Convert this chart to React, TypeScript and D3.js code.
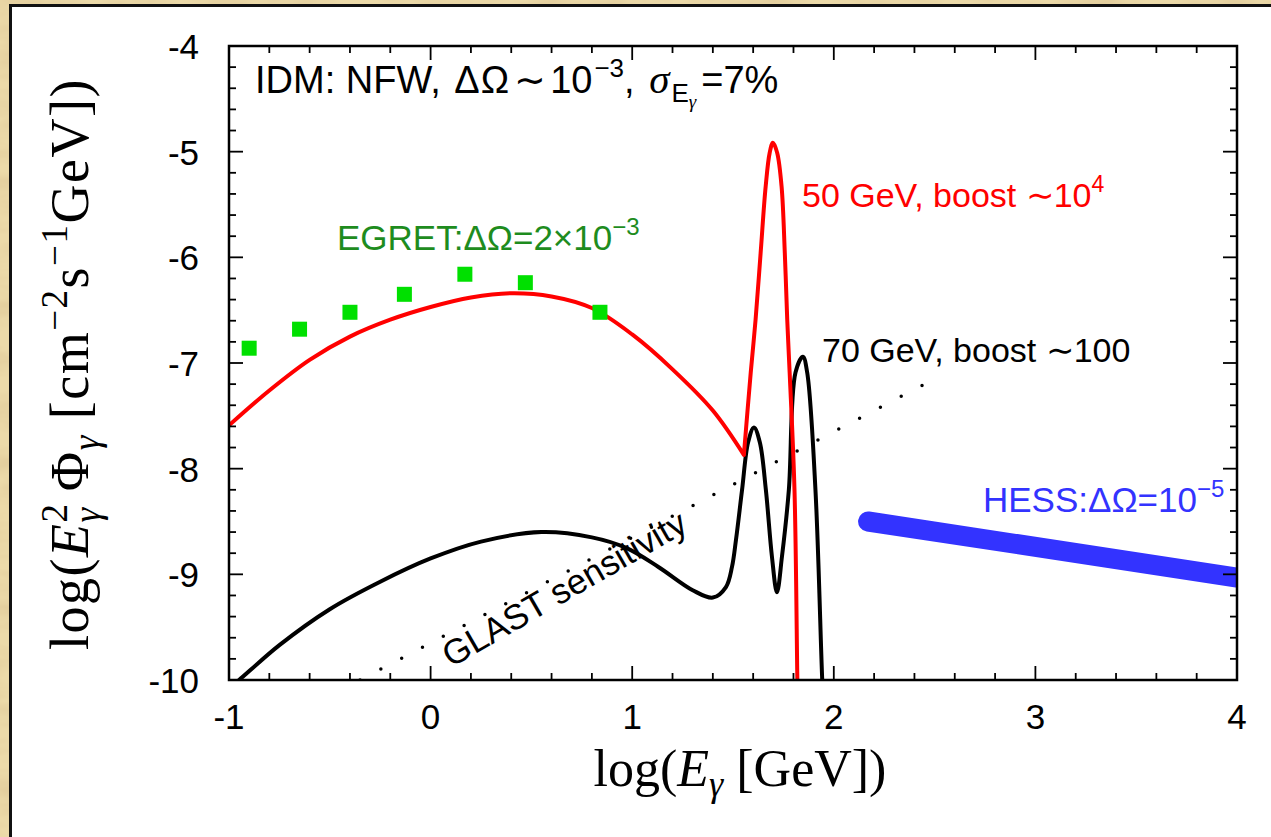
import * as d3 from "d3";
import { useEffect, useRef } from "react";

// tick values
const xMajor = [-1, 0, 1, 2, 3, 4];
const yMajor = [-10, -9, -8, -7, -6, -5, -4];
const xMinor = d3.range(0, 26).map((i) => -1 + i * 0.2);
const yMinor = d3.range(0, 31).map((i) => -10 + i * 0.2);

// EGRET data (green squares)
const egretLogE = [-0.9, -0.65, -0.4, -0.13, 0.17, 0.47, 0.84];
const egretFlux = [-6.86, -6.68, -6.52, -6.35, -6.16, -6.24, -6.52];

// 50 GeV, boost ~1e4 : continuum part, then the line
const red50Cont = [
	[-1.0, -7.59], [-0.8, -7.26], [-0.6, -6.97], [-0.4, -6.75], [-0.2, -6.59],
	[0.0, -6.47], [0.2, -6.38], [0.4, -6.34], [0.6, -6.37], [0.8, -6.48],
	[1.0, -6.73], [1.2, -7.06], [1.4, -7.45], [1.554, -7.87],
];
const red50Line = [
	[1.554, -7.87], [1.588, -7.09], [1.612, -6.59], [1.637, -5.96], [1.662, -5.33],
	[1.682, -5.01], [1.698, -4.915], [1.719, -5.01], [1.741, -5.33], [1.757, -5.96],
	[1.769, -6.59], [1.781, -7.09], [1.805, -8.2], [1.819, -9.97], [1.822, -10.3],
];

// 70 GeV, boost ~100
const black70 = [
	[-0.97, -10.03], [-0.95, -10.0], [-0.75, -9.67], [-0.5, -9.33], [-0.25, -9.07],
	[0.0, -8.85], [0.25, -8.69], [0.55, -8.6], [0.8, -8.65], [0.97, -8.75],
	[1.13, -8.93], [1.3, -9.15], [1.4, -9.22], [1.465, -9.12], [1.495, -8.93],
	[1.515, -8.67], [1.545, -8.2], [1.575, -7.75], [1.604, -7.61], [1.633, -7.75],
	[1.663, -8.2], [1.693, -8.83], [1.718, -9.17], [1.743, -8.83], [1.777, -8.2],
	[1.81, -7.09], [1.847, -6.94], [1.868, -7.09], [1.909, -8.2], [1.942, -9.97],
	[1.95, -10.3],
];

// GLAST sensitivity (dotted) and HESS band
const glastLine = [[-0.35, -10], [2.45, -7.2]];
const hessLine = [[2.17, -8.5], [4.0, -9.03]];

const W = 1271;
const H = 837;
const plot = { left: 229, right: 1237, top: 46, bottom: 680 };
const sans = "'Liberation Sans', Arial, Helvetica, sans-serif";
const serif = "'Liberation Serif', 'Times New Roman', serif";

function App() {
	const ref = useRef(null);

	useEffect(() => {
		const svg = d3.select(ref.current);
		svg.selectAll("*").remove();

		const x = d3.scaleLinear().domain([-1, 4]).range([plot.left, plot.right]);
		const y = d3.scaleLinear().domain([-10, -4]).range([plot.bottom, plot.top]);

		const defs = svg.append("defs");
		const f = defs.append("filter").attr("id", "parch").attr("x", 0).attr("y", 0).attr("width", 1).attr("height", 1);
		f.append("feTurbulence")
			.attr("type", "fractalNoise")
			.attr("baseFrequency", "0.015 0.04")
			.attr("numOctaves", 4)
			.attr("seed", 7);
		f.append("feColorMatrix")
			.attr("values", "0 0 0 0 0.72  0 0 0 0 0.56  0 0 0 0 0.3  1.4 0 0 0 -0.55");
		defs.append("clipPath")
			.attr("id", "plotclip")
			.append("rect")
			.attr("x", plot.left)
			.attr("y", plot.top)
			.attr("width", plot.right - plot.left)
			.attr("height", plot.bottom - plot.top);

		// parchment background + white panel
		svg.append("rect").attr("width", W).attr("height", H).attr("fill", "#ecdaa9");
		svg.append("rect").attr("width", W).attr("height", H).attr("filter", "url(#parch)");
		svg.append("rect")
			.attr("x", 10.5)
			.attr("y", 5.5)
			.attr("width", 1400)
			.attr("height", 1000)
			.attr("fill", "#fff")
			.attr("stroke", "#111")
			.attr("stroke-width", 3);

		const g = svg.append("g").attr("clip-path", "url(#plotclip)");
		const line = d3.line().x((d) => x(d[0])).y((d) => y(d[1]));
		const smooth = d3.line().x((d) => x(d[0])).y((d) => y(d[1])).curve(d3.curveCatmullRom.alpha(0.5));

		// HESS
		g.append("path")
			.attr("d", line(hessLine))
			.attr("stroke", "#3333ff")
			.attr("stroke-width", 20)
			.attr("stroke-linecap", "round")
			.attr("fill", "none");

		// GLAST dotted
		g.append("path")
			.attr("d", line(glastLine))
			.attr("stroke", "#000")
			.attr("stroke-width", 3.5)
			.attr("stroke-linecap", "round")
			.attr("stroke-dasharray", "0 23.5")
			.attr("fill", "none");

		// black 70 GeV
		g.append("path")
			.attr("d", smooth(black70))
			.attr("stroke", "#000")
			.attr("stroke-width", 4)
			.attr("stroke-linejoin", "round")
			.attr("fill", "none");

		// red 50 GeV
		g.append("path")
			.attr("d", smooth(red50Cont) + smooth(red50Line))
			.attr("stroke", "#ff0000")
			.attr("stroke-width", 4)
			.attr("stroke-linejoin", "round")
			.attr("stroke-linecap", "round")
			.attr("fill", "none");

		// EGRET squares
		g.selectAll("rect.egret")
			.data(egretLogE.map((e, i) => [e, egretFlux[i]]))
			.enter()
			.append("rect")
			.attr("class", "egret")
			.attr("x", (d) => x(d[0]) - 7.5)
			.attr("y", (d) => y(d[1]) - 7.5)
			.attr("width", 15)
			.attr("height", 15)
			.attr("fill", "#00e000");

		// frame
		svg.append("rect")
			.attr("x", plot.left)
			.attr("y", plot.top)
			.attr("width", plot.right - plot.left)
			.attr("height", plot.bottom - plot.top)
			.attr("fill", "none")
			.attr("stroke", "#000")
			.attr("stroke-width", 2.5);

		const ticks = svg.append("g").attr("stroke", "#000").attr("stroke-width", 1.8);
		const isMajor = (v) => Math.abs(v - Math.round(v)) < 1e-6;
		xMinor.forEach((v) => {
			const len = isMajor(v) ? 14 : 7;
			ticks.append("line").attr("x1", x(v)).attr("x2", x(v)).attr("y1", plot.bottom).attr("y2", plot.bottom - len);
			ticks.append("line").attr("x1", x(v)).attr("x2", x(v)).attr("y1", plot.top).attr("y2", plot.top + len);
		});
		yMinor.forEach((v) => {
			const len = isMajor(v) ? 14 : 7;
			ticks.append("line").attr("y1", y(v)).attr("y2", y(v)).attr("x1", plot.left).attr("x2", plot.left + len);
			ticks.append("line").attr("y1", y(v)).attr("y2", y(v)).attr("x1", plot.right).attr("x2", plot.right - len);
		});

		// tick labels
		svg.selectAll("text.xl")
			.data(xMajor)
			.enter()
			.append("text")
			.attr("class", "xl")
			.attr("x", (d) => x(d))
			.attr("y", 729)
			.attr("text-anchor", "middle")
			.attr("font-family", sans)
			.attr("font-size", 35)
			.text((d) => (d < 0 ? "-" + Math.abs(d) : d));
		svg.selectAll("text.yl")
			.data(yMajor)
			.enter()
			.append("text")
			.attr("class", "yl")
			.attr("x", 199)
			.attr("y", (d) => y(d) + 13)
			.attr("text-anchor", "end")
			.attr("font-family", sans)
			.attr("font-size", 35)
			.text((d) => "-" + Math.abs(d));

		// axis titles
		const xt = svg.append("text")
			.attr("x", 740)
			.attr("y", 786)
			.attr("text-anchor", "middle")
			.attr("font-family", serif)
			.attr("font-size", 52);
		xt.append("tspan").text("log(");
		xt.append("tspan").attr("font-style", "italic").text("E");
		xt.append("tspan").attr("font-style", "italic").attr("font-size", 36).attr("dy", 10).text("γ");
		xt.append("tspan").attr("dy", -10).text("  [GeV])");

		const yt = svg.append("text")
			.attr("transform", "translate(88,364) rotate(-90)")
			.attr("text-anchor", "middle")
			.attr("font-family", serif)
			.attr("font-size", 54)
			.attr("letter-spacing", 1.5);
		yt.append("tspan").text("log(");
		yt.append("tspan").attr("font-style", "italic").text("E");
		yt.append("tspan").attr("font-size", 37).attr("dy", -21).text("2");
		yt.append("tspan").attr("font-style", "italic").attr("font-size", 37).attr("dx", -20).attr("dy", 33).text("γ");
		yt.append("tspan").attr("dy", -12).text("  Φ");
		yt.append("tspan").attr("font-style", "italic").attr("font-size", 37).attr("dy", 11).text("γ");
		yt.append("tspan").attr("dy", -11).text("  [cm");
		yt.append("tspan").attr("font-size", 37).attr("dy", -21).text("−2");
		yt.append("tspan").attr("dy", 21).text("s");
		yt.append("tspan").attr("font-size", 37).attr("dy", -21).text("−1");
		yt.append("tspan").attr("dy", 21).text("GeV])");

		// annotations
		const title = svg.append("text").attr("x", 255).attr("y", 93).attr("font-family", sans).attr("font-size", 38);
		title.append("tspan").text("IDM: NFW, ");
		title.append("tspan").attr("dx", 3).text("Δ");
		title.append("tspan").attr("dx", 1).text("Ω");
		title.append("tspan").attr("dx", 5).text("∼");
		title.append("tspan").attr("dx", 4).text("10");
		title.append("tspan").attr("font-size", 26).attr("dx", 2).attr("dy", -16).text("−3");
		title.append("tspan").attr("dy", 16).text(", ");
		title.append("tspan").attr("font-family", serif).attr("font-style", "italic").attr("font-size", 41).attr("dx", 4).text("σ");
		title.append("tspan").attr("font-size", 26).attr("dx", 2).attr("dy", 9).text("E");
		title.append("tspan").attr("font-family", serif).attr("font-style", "italic").attr("font-size", 19).attr("dy", 6).text("γ");
		title.append("tspan").attr("dx", 5).attr("dy", -15).text("=7%");

		const eg = svg.append("text").attr("x", 337).attr("y", 250).attr("fill", "#1e8c1e").attr("font-family", sans).attr("font-size", 35);
		eg.append("tspan").text("EGRET:ΔΩ=2×10");
		eg.append("tspan").attr("font-size", 24).attr("dy", -15).text("−3");

		const r50 = svg.append("text").attr("x", 802).attr("y", 207).attr("fill", "#ff0000").attr("font-family", sans).attr("font-size", 34);
		r50.append("tspan").text("50 GeV, boost ∼10");
		r50.append("tspan").attr("font-size", 23).attr("dy", -15).text("4");

		svg.append("text").attr("x", 822).attr("y", 362).attr("fill", "#000").attr("font-family", sans).attr("font-size", 34)
			.text("70 GeV, boost ∼100");

		const hs = svg.append("text").attr("x", 983).attr("y", 512).attr("fill", "#3333ff").attr("font-family", sans).attr("font-size", 35);
		hs.append("tspan").text("HESS:ΔΩ=10");
		hs.append("tspan").attr("font-size", 24).attr("dy", -15).text("−5");

		svg.append("text")
			.attr("transform", "translate(451,668) rotate(-30)")
			.attr("font-family", sans)
			.attr("font-size", 35)
			.text("GLAST sensitivity");
	}, []);

	return (
		<svg
			ref={ref}
			width={W}
			height={H}
			style={{ position: "absolute", left: 0, top: 0, display: "block" }}
		/>
	);
}

export default App;
